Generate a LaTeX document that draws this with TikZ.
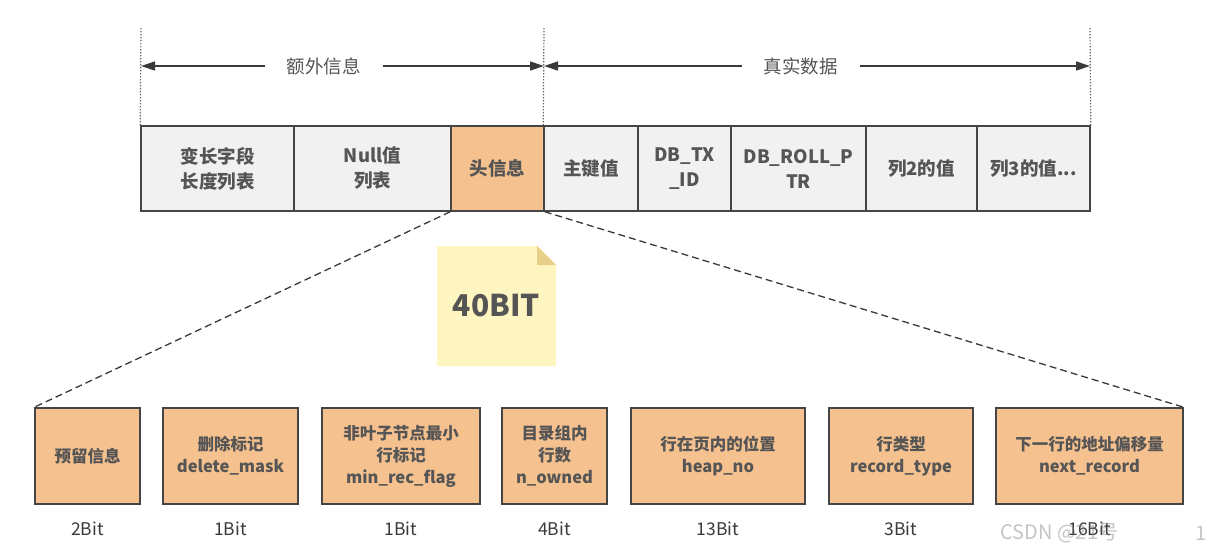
\documentclass[tikz,border=0pt]{standalone}
\usepackage{fontspec}
\setmainfont{Noto Sans CJK SC}
\usetikzlibrary{arrows.meta}
\definecolor{cellgray}{HTML}{F1F1F1}
\definecolor{hdrfill}{HTML}{F5C18F}
\definecolor{edgecol}{HTML}{454545}
\definecolor{txtcol}{HTML}{555555}
\definecolor{notebg}{HTML}{FFF5C0}
\definecolor{notefold}{HTML}{E8D08A}
\definecolor{dimcol}{HTML}{3A3A3A}
\begin{document}
\begin{tikzpicture}[x=1pt,y=-1pt,
  cell/.style={draw=edgecol, line width=1.5pt, fill=cellgray, minimum height=85pt,
    inner sep=0pt, align=center, text=txtcol,
    font=\bfseries\fontsize{18.5}{25}\selectfont},
  hdrcell/.style={cell, fill=hdrfill},
  field/.style={draw=edgecol, line width=1.5pt, fill=hdrfill, minimum height=96pt,
    inner sep=0pt, align=center, text=txtcol,
    font=\bfseries\fontsize{16.5}{22}\selectfont},
  bitlbl/.style={text=dimcol, font=\fontsize{17.5}{17.5}\selectfont, inner sep=0pt},
  guide/.style={draw=dimcol!80, line width=1.2pt, dash pattern=on 1.3pt off 1.7pt},
  dimline/.style={draw=dimcol, line width=1.3pt, {Triangle[length=14pt,width=9pt]}-{Triangle[length=14pt,width=9pt]}},
  dimlbl/.style={fill=white, text=txtcol, inner xsep=22pt, inner ysep=4pt,
    font=\fontsize{18.5}{18.5}\selectfont},
  fan/.style={draw=dimcol, line width=1.3pt, dash pattern=on 7pt off 4pt}
]
\useasboundingbox (0,0) rectangle (1212,552);
\fill[white] (0,0) rectangle (1212,552);

% record layout row
\node[cell, minimum width=153pt] (c1) at (217.5,168.5) {变长字段\\长度列表};
\node[cell, minimum width=157pt] (c2) at (372.5,168.5) {Null值\\列表};
\node[hdrcell, minimum width=93pt] (c3) at (497.5,168.5) {头信息};
\node[cell, minimum width=94pt] (c4) at (591,168.5) {主键值};
\node[cell, minimum width=93pt] (c5) at (684.5,168.5) {DB\_TX\\\_ID};
\node[cell, minimum width=135pt] (c6) at (798.5,168.5) {DB\_ROLL\_P\\TR};
\node[cell, minimum width=111pt] (c7) at (921.5,168.5) {列2的值};
\node[cell, minimum width=113pt] (c8) at (1033.5,168.5) {列3的值...};

% dotted guides and span arrows
\coordinate (g1) at (141,28);
\coordinate (g2) at (544,28);
\coordinate (g3) at (1090,28);
\draw[guide] (g1) -- (c1.north west);
\draw[guide] (g2) -- (c4.north west);
\draw[guide] (g3) -- (c8.north east);
\coordinate (a1) at (141,66);
\coordinate (a2) at (544,66);
\coordinate (a3) at (1090,66);
\draw[dimline] (a1) -- (a2) node[dimlbl, pos=0.453] (l1) {额外信息};
\draw[dimline] (a2) -- (a3) node[dimlbl, pos=0.47] (l2) {真实数据};

% header bit fields
\node[field, minimum width=105pt] (b1) at (87.5,456) {预留信息};
\node[field, minimum width=135pt] (b2) at (230.5,456) {删除标记\\delete\_mask};
\node[field, minimum width=158pt] (b3) at (401,456) {非叶子节点最小\\行标记\\min\_rec\_flag};
\node[field, minimum width=105pt] (b4) at (554.5,456) {目录组内\\行数\\n\_owned};
\node[field, minimum width=174pt] (b5) at (718,456) {行在页内的位置\\heap\_no};
\node[field, minimum width=144pt] (b6) at (901,456) {行类型\\record\_type};
\node[field, minimum width=187pt] (b7) at (1089.5,456) {下一行的地址偏移量\\next\_record};

\node[bitlbl] (s1) at ([yshift=-24pt]b1.south) {2Bit};
\node[bitlbl] (s2) at ([yshift=-24pt]b2.south) {1Bit};
\node[bitlbl] (s3) at ([yshift=-24pt]b3.south) {1Bit};
\node[bitlbl] (s4) at ([yshift=-24pt]b4.south) {4Bit};
\node[bitlbl] (s5) at ([yshift=-24pt]b5.south) {13Bit};
\node[bitlbl] (s6) at ([yshift=-24pt]b6.south) {3Bit};
\node[bitlbl] (s7) at ([yshift=-24pt]b7.south) {16Bit};

% expansion lines
\draw[fan] (c3.south west) -- (b1.north west);
\draw[fan] (c3.south east) -- (b7.north east);

% note with folded corner
\fill[notebg] (437,246) -- (537,246) -- (556,265) -- (556,366) -- (437,366) -- cycle;
\fill[notefold] (537,246) -- (556,265) -- (537,265) -- cycle;
\node[text=txtcol, font=\bfseries\fontsize{30}{30}\selectfont, inner sep=0pt] (n40) at (496.5,306) {40BIT};

% watermark
\node[anchor=west, text=gray, opacity=0.45, font=\fontsize{20}{20}\selectfont, inner sep=0pt] (wm) at (1000,533) {CSDN @21号};
\node[anchor=west, text=gray, opacity=0.45, font=\fontsize{20}{20}\selectfont, inner sep=0pt] (wm2) at (1195,533) {1};
\end{tikzpicture}
\end{document}
